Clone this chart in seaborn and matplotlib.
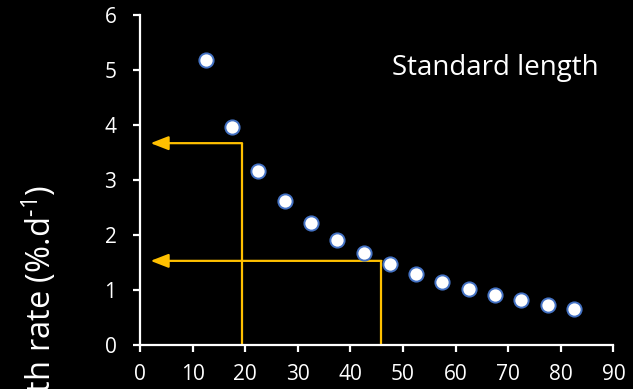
import matplotlib
matplotlib.use("Agg")
import matplotlib.pyplot as plt
import seaborn as sns
import pandas as pd

# Fish size (mm) versus specific growth rate
size_mm = [12.5, 17.5, 22.5, 27.5, 32.5, 37.5, 42.5, 47.5, 52.5, 57.5, 62.5, 67.5, 72.5, 77.5, 82.5]
growth_rate = [5.18, 3.96, 3.17, 2.62, 2.22, 1.91, 1.67, 1.47, 1.29, 1.14, 1.02, 0.91, 0.81, 0.72, 0.65]

# Reference lookups: (size, growth rate)
lookup_size = [19.3, 45.8]
lookup_rate = [3.67, 1.53]
arrow_tip_x = 2.0

x_ticks = [0, 10, 20, 30, 40, 50, 60, 70, 80, 90]
y_ticks = [0, 1, 2, 3, 4, 5, 6]

sns.set_theme(style="ticks")
plt.rcParams["font.family"] = ["Open Sans", "DejaVu Sans"]
plt.rcParams["mathtext.default"] = "regular"

df = pd.DataFrame({"size": size_mm, "rate": growth_rate})

fig = plt.figure(figsize=(6.33, 3.89), dpi=100, facecolor="black")
ax = fig.add_axes([0.2212, 0.1131, 0.969 - 0.2212, 0.9614 - 0.1131])
ax.set_facecolor("black")

gold = "#FFC000"
for sx, ry in zip(lookup_size, lookup_rate):
    ax.plot([sx, sx], [0, ry], color=gold, lw=1.6, solid_capstyle="butt", zorder=2)
    ax.annotate("", xy=(arrow_tip_x, ry), xytext=(sx + 0.1, ry),
                arrowprops=dict(arrowstyle="-|>,head_length=0.9,head_width=0.35",
                                color=gold, lw=1.6, shrinkA=0, shrinkB=0),
                zorder=2)

sns.scatterplot(data=df, x="size", y="rate", ax=ax, s=105, color="white",
                edgecolor="#4472C4", linewidth=1.4, zorder=3, clip_on=False)

ax.set_xlim(0, 90)
ax.set_ylim(0, 6)
ax.set_xticks(x_ticks)
ax.set_yticks(y_ticks)
ax.set_xlabel("")
ax.set_ylabel("")

for side in ("top", "right"):
    ax.spines[side].set_visible(False)
for side in ("left", "bottom"):
    ax.spines[side].set_color("white")
    ax.spines[side].set_linewidth(1.6)
ax.tick_params(colors="white", labelcolor="white", labelsize=15, width=1.6,
               length=5, direction="out")
ax.tick_params(axis="x", pad=9)
ax.tick_params(axis="y", pad=12)

ax.text(0.751, 0.818, "Standard length", transform=ax.transAxes, color="white",
        fontsize=20, ha="center", va="baseline")

fig.text(39 / 633, 1 - 185 / 389, "Growth rate (%.d$^{\u20101}$)", rotation=90,
         color="white", fontsize=23.5, ha="center", va="top")

fig.savefig("out.png", dpi=100, facecolor="black")
